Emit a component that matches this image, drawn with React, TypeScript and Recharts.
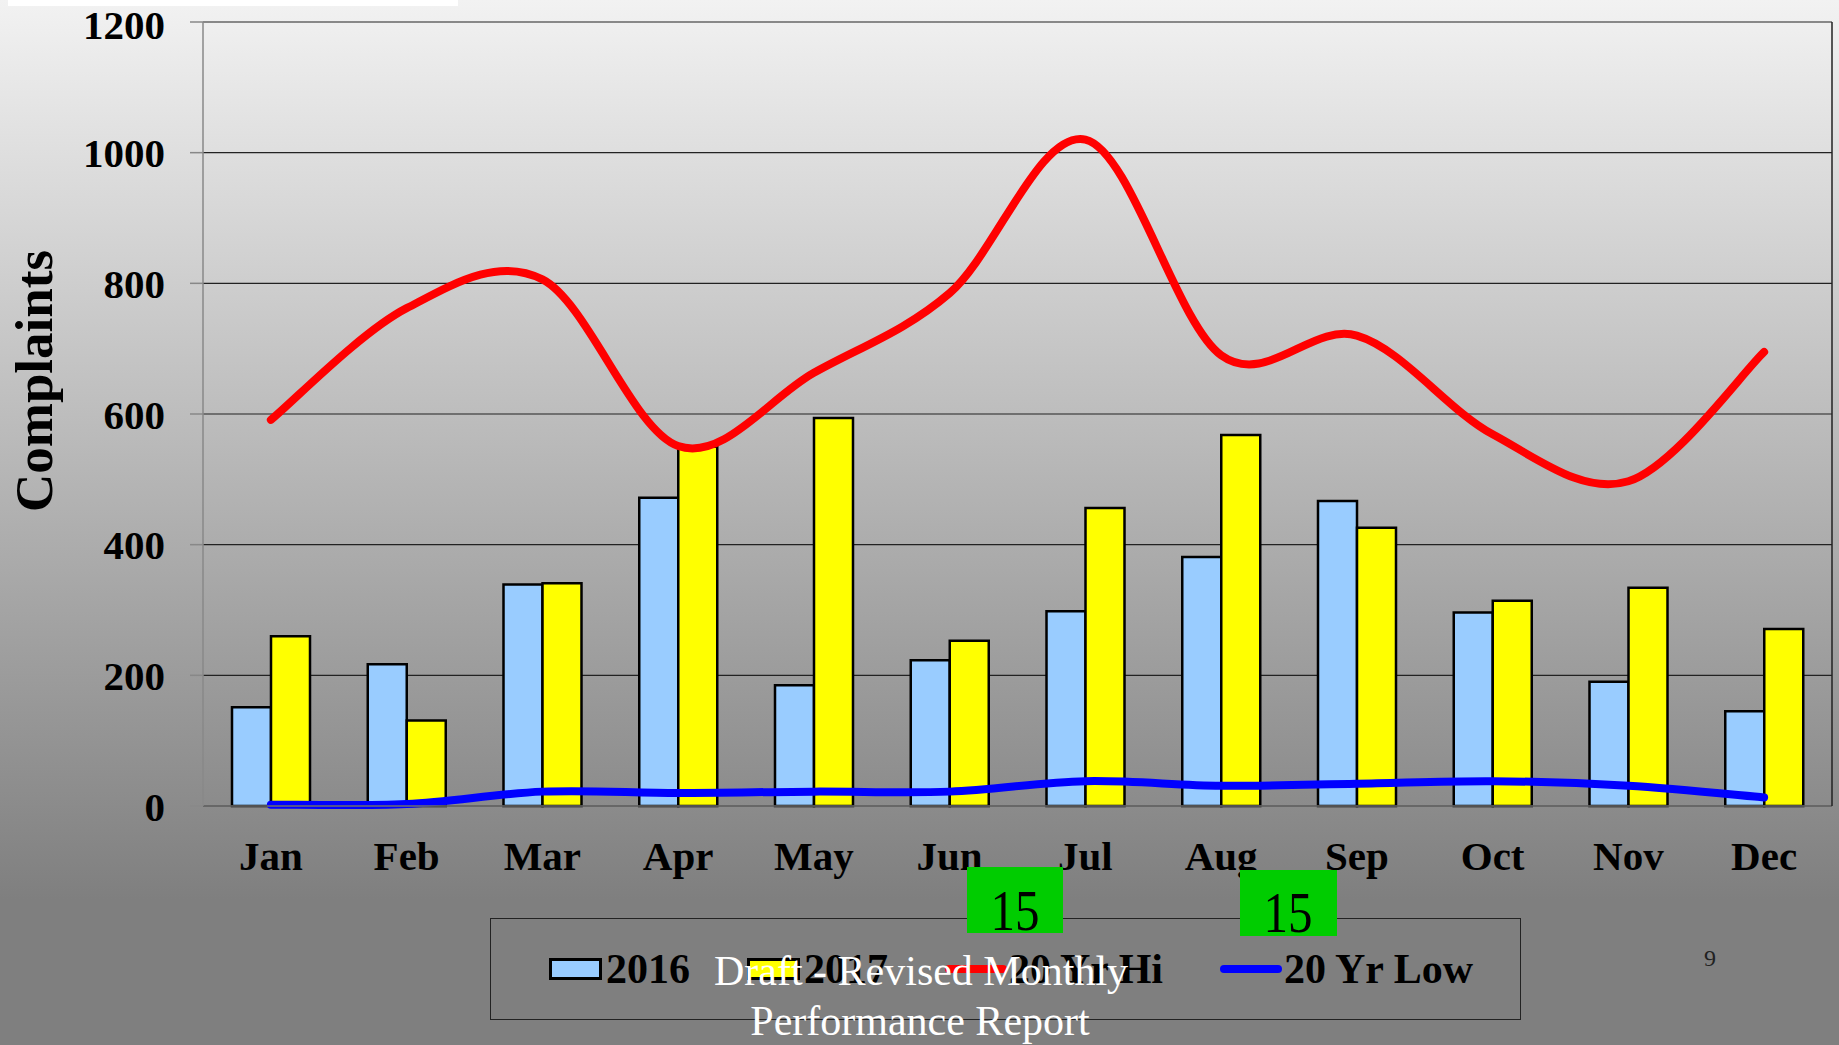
import React from 'react';
import { ComposedChart, Bar, Line, XAxis, YAxis, CartesianGrid } from 'recharts';

const months = ['Jan', 'Feb', 'Mar', 'Apr', 'May', 'Jun', 'Jul', 'Aug', 'Sep', 'Oct', 'Nov', 'Dec'];
const complaints2016 = [151, 217, 339, 472, 185, 223, 298, 381, 467, 296, 190, 145];
const complaints2017 = [260, 131, 341, 550, 594, 253, 456, 568, 426, 314, 334, 271];
const yrHigh = [591, 762, 806, 551, 663, 785, 1020, 690, 720, 569, 497, 695];
const yrLow = [2, 3, 22, 20, 22, 22, 38, 31, 34, 38, 31, 13];
const yTicks = [0, 200, 400, 600, 800, 1000, 1200];

const SERIF = '"Liberation Serif", "Times New Roman", serif';

const data = months.map((m, i) => ({
  month: m,
  y2016: complaints2016[i],
  y2017: complaints2017[i],
  hi: yrHigh[i],
  low: yrLow[i],
}));

// excel style smoothed line (catmull-rom through the points)
const smoothCurve = (context: any) => {
  let pts: number[][] = [];
  return {
    areaStart() {},
    areaEnd() {},
    lineStart() {
      pts = [];
    },
    point(x: number, y: number) {
      pts.push([+x, +y]);
    },
    lineEnd() {
      if (!pts.length) return;
      context.moveTo(pts[0][0], pts[0][1]);
      for (let i = 0; i < pts.length - 1; i++) {
        const p0 = pts[i - 1] || pts[i];
        const p1 = pts[i];
        const p2 = pts[i + 1];
        const p3 = pts[i + 2] || p2;
        context.bezierCurveTo(
          p1[0] + (p2[0] - p0[0]) / 6,
          p1[1] + (p2[1] - p0[1]) / 6,
          p2[0] - (p3[0] - p1[0]) / 6,
          p2[1] - (p3[1] - p1[1]) / 6,
          p2[0],
          p2[1]
        );
      }
    },
  };
};

const YLabel = ({ viewBox }: any) => {
  // title sits a bit above the middle of the axis
  const cy = viewBox.y + viewBox.height / 2 - 33;
  return (
    <text
      transform={`translate(${viewBox.x + 52},${cy}) rotate(-90)`}
      textAnchor="middle"
      fontFamily={SERIF}
      fontWeight="bold"
      fontSize={53}
      fill="#000"
    >
      Complaints
    </text>
  );
};

const legendItems = [
  { label: '2016', kind: 'box', color: '#99ccff' },
  { label: '2017', kind: 'box', color: '#ffff00' },
  { label: '20 Yr Hi', kind: 'line', color: '#ff0000' },
  { label: '20 Yr Low', kind: 'line', color: '#0000ff' },
];

function ChartLegend() {
  return (
    <div
      style={{
        position: 'absolute',
        left: 490,
        top: 918,
        width: 1031,
        height: 102,
        border: '1px solid #222',
        boxSizing: 'border-box',
        display: 'flex',
        alignItems: 'center',
        paddingLeft: 58,
        gap: 57,
        fontFamily: SERIF,
        fontWeight: 'bold',
        fontSize: 42,
        color: '#000',
      }}
    >
      {legendItems.map((it) => (
        <div key={it.label} style={{ display: 'flex', alignItems: 'center' }}>
          {it.kind === 'box' ? (
            <div
              style={{
                width: 53,
                height: 22,
                background: it.color,
                border: '3px solid #000',
                boxSizing: 'border-box',
                marginRight: 4,
              }}
            />
          ) : (
            <svg width={62} height={12} style={{ marginRight: 2 }}>
              <line x1={4} y1={6} x2={58} y2={6} stroke={it.color} strokeWidth={8} strokeLinecap="round" />
            </svg>
          )}
          <span style={{ lineHeight: '42px' }}>{it.label}</span>
        </div>
      ))}
    </div>
  );
}

export default function App() {
  return (
    <div
      style={{
        position: 'absolute',
        left: 0,
        top: 0,
        width: 1839,
        height: 1045,
        overflow: 'hidden',
        background: 'linear-gradient(to bottom, #f2f2f2 0px, #7f7f7f 900px, #7f7f7f 100%)',
      }}
    >
      <div style={{ position: 'absolute', left: 8, top: 0, width: 450, height: 6, background: '#fff' }} />
      <ComposedChart
        width={1839}
        height={1045}
        data={data}
        margin={{ top: 22, right: 0, bottom: 179, left: 0 }}
        barGap={0}
      >
        <CartesianGrid vertical={false} stroke="#222" strokeWidth={1.2} />
        <XAxis
          dataKey="month"
          height={60}
          tickSize={0}
          tickMargin={35}
          axisLine={{ stroke: '#6e6e6e', strokeWidth: 1.5 }}
          tick={{ fontFamily: SERIF, fontWeight: 'bold', fontSize: 41, fill: '#000' }}
          interval={0}
        />
        <YAxis
          width={203}
          domain={[0, 1200]}
          ticks={yTicks}
          tickSize={13}
          tickMargin={25}
          axisLine={{ stroke: '#888', strokeWidth: 1.5 }}
          tickLine={{ stroke: '#888', strokeWidth: 1.5 }}
          tick={{ fontFamily: SERIF, fontWeight: 'bold', fontSize: 41, fill: '#000' }}
          label={<YLabel />}
        />
        <YAxis
          yAxisId="frame"
          orientation="right"
          width={7}
          tick={false}
          tickLine={false}
          axisLine={{ stroke: '#222', strokeWidth: 1.5 }}
        />
        <Bar dataKey="y2016" name="2016" fill="#99ccff" stroke="#000" strokeWidth={2.5} barSize={39} isAnimationActive={false} />
        <Bar dataKey="y2017" name="2017" fill="#ffff00" stroke="#000" strokeWidth={2.5} barSize={39} isAnimationActive={false} />
        <Line
          dataKey="hi"
          name="20 Yr Hi"
          type={smoothCurve as any}
          stroke="#ff0000"
          strokeWidth={8}
          strokeLinecap="round"
          dot={false}
          activeDot={false}
          isAnimationActive={false}
        />
        <Line
          dataKey="low"
          name="20 Yr Low"
          type={smoothCurve as any}
          stroke="#0000ff"
          strokeWidth={8}
          strokeLinecap="round"
          dot={false}
          activeDot={false}
          isAnimationActive={false}
        />
      </ComposedChart>
      <ChartLegend />
      <svg
        width={1839}
        height={1045}
        style={{ position: 'absolute', left: 0, top: 0, pointerEvents: 'none' }}
      >
        <rect x={967} y={867} width={96} height={66} fill="#00cc00" />
        <rect x={1240} y={870} width={97} height={66} fill="#00cc00" />
        <text x={1015} y={930} textAnchor="middle" fontFamily={SERIF} fontSize={56} textLength={49} lengthAdjust="spacingAndGlyphs" fill="#000">15</text>
        <text x={1288} y={932} textAnchor="middle" fontFamily={SERIF} fontSize={56} textLength={49} lengthAdjust="spacingAndGlyphs" fill="#000">15</text>
        <text x={921} y={985} textAnchor="middle" fontFamily={SERIF} fontSize={42} fill="#fff">Draft - Revised Monthly</text>
        <text x={920} y={1035} textAnchor="middle" fontFamily={SERIF} fontSize={42} fill="#fff">Performance Report</text>
        <text x={1710} y={966} textAnchor="middle" fontFamily={SERIF} fontSize={24} fill="#222">9</text>
      </svg>
    </div>
  );
}
